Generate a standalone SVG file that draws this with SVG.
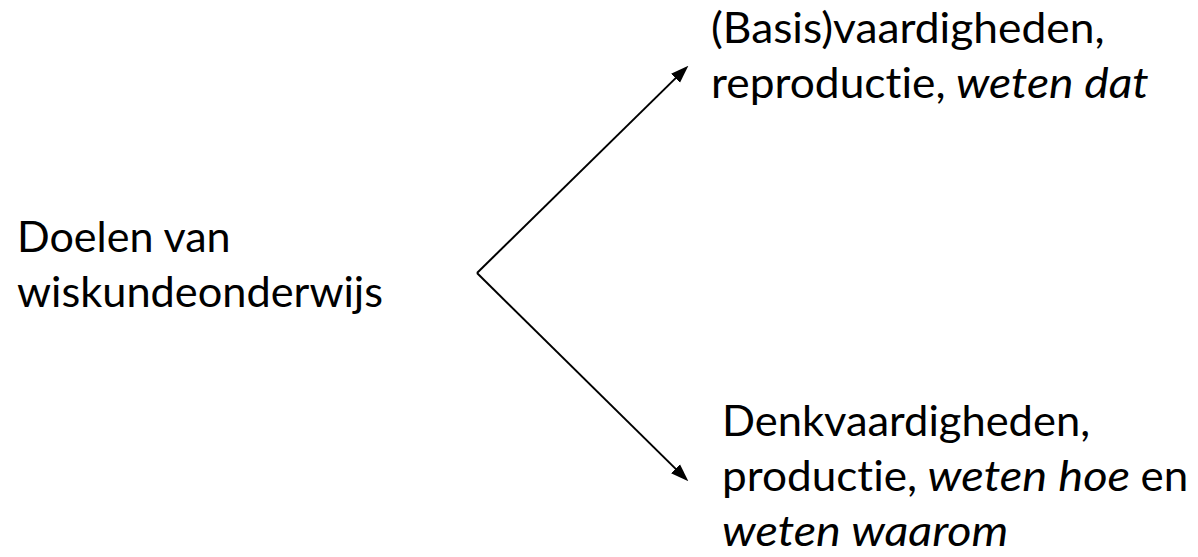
<svg xmlns="http://www.w3.org/2000/svg" width="1198" height="557" viewBox="0 0 1198 557">
  <style>
    .t { font-family: Lato, "Open Sans", "Liberation Sans", sans-serif; font-size: 43px; fill: #000; font-variant-ligatures: none; font-feature-settings: "liga" 0, "clig" 0, "dlig" 0; }
    .i { font-style: italic; }
    .c { stroke: #000; stroke-width: 2; fill: none; }
  </style>
  <defs>
    <marker id="ah" markerUnits="userSpaceOnUse" markerWidth="18" markerHeight="14" viewBox="0 0 17 12" refX="9" refY="6" orient="auto">
      <path d="M0,0 L17,6 L0,12 z" fill="#000"/>
    </marker>
  </defs>
  <rect width="1198" height="557" fill="#fff"/>
  <g id="connectors">
    <path class="c" d="M477,273 L682.3,71.6" marker-end="url(#ah)"/>
    <path class="c" d="M477,273 L682.3,475.4" marker-end="url(#ah)"/>
  </g>
  <g id="node-doelen">
    <text class="t" x="17" y="252" textLength="213.6" lengthAdjust="spacingAndGlyphs">Doelen van</text>
    <text class="t" x="17" y="307" textLength="366" lengthAdjust="spacingAndGlyphs">wiskundeonderwijs</text>
  </g>
  <g id="node-basis">
    <text class="t" x="711" y="43" textLength="393.5" lengthAdjust="spacingAndGlyphs">(Basis)vaardigheden,</text>
    <text class="t" x="711" y="98" textLength="234.5" lengthAdjust="spacingAndGlyphs">reproductie,</text>
    <text class="t i" x="956" y="98" textLength="192.7" lengthAdjust="spacingAndGlyphs">weten dat</text>
  </g>
  <g id="node-denk">
    <text class="t" x="722" y="436" textLength="368" lengthAdjust="spacingAndGlyphs">Denkvaardigheden,</text>
    <text class="t" x="722" y="491" textLength="195.1" lengthAdjust="spacingAndGlyphs">productie,</text>
    <text class="t i" x="927.6" y="491" textLength="202.5" lengthAdjust="spacingAndGlyphs">weten hoe</text>
    <text class="t" x="1140.6" y="491" textLength="47.7" lengthAdjust="spacingAndGlyphs">en</text>
    <text class="t i" x="722" y="546" textLength="286.3" lengthAdjust="spacingAndGlyphs">weten waarom</text>
  </g>
</svg>
